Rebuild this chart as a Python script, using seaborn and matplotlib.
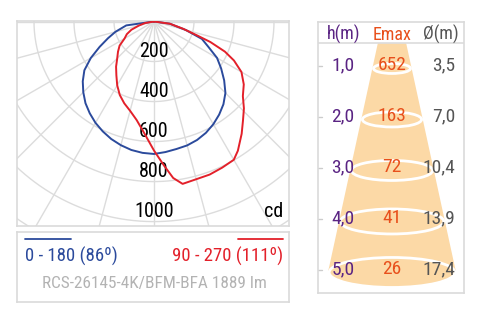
import numpy as np
import pandas as pd
import matplotlib.pyplot as plt
from matplotlib.patches import Ellipse, Polygon
import seaborn as sns

# photometric curves: angle from nadir (deg, negative = left half) and intensity (cd)
blue_angles = [-90, -82, -75, -70, -65, -60, -55, -50, -45, -40, -35, -30, -25, -20, -15, -10, -5,
               0, 5, 10, 15, 20, 25, 30, 35, 40, 45, 50, 55, 60, 65, 70, 75, 82, 90]
blue_cd = [0, 140, 200, 245, 300, 365, 425, 465, 500, 533, 560, 585, 606, 625, 640, 652, 659,
           662, 655, 647, 641, 630, 614, 593, 568, 540, 505, 458, 410, 364, 300, 255, 165, 80, 0]

red_angles = [-90, -80, -75, -70, -65, -60, -55, -50, -45, -40, -35, -30, -25, -20, -15, -10, -5,
              0, 4, 7, 10, 15, 20, 25, 30, 33, 38, 42, 46, 50, 55, 60, 64, 67, 70, 72, 76, 82, 90]
red_cd = [0, 45, 78, 120, 150, 170, 210, 235, 260, 295, 328, 368, 405, 435, 462, 500, 560,
          645, 722, 788, 824, 816, 814, 806, 798, 770, 712, 665, 625, 580, 548, 505, 445, 385, 300, 230, 150, 80, 0]

ring_values = [200, 400, 600, 800, 1000]
blue_label = "0 - 180 (86º)"
red_label = "90 - 270 (111º)"
lamp_label = "RCS-26145-4K/BFM-BFA 1889 lm"

# table on the right
heights = [1, 2, 3, 4, 5]
emax = [652, 163, 72, 41, 26]
diameters = [3.5, 7.0, 10.4, 13.9, 17.4]

BLUE = "#2b4a9c"
RED = "#e3202a"
GRID = "#dcdcdc"
FRAME = "#dadada"
PURPLE = "#5a2483"
ORANGE = "#e8501c"
DGRAY = "#555555"
LGRAY = "#b3b3b3"
CONE = "#fcd9a6"

sns.set_theme(style="white")
plt.rcParams['font.family'] = ['Roboto Condensed', 'Roboto', 'DejaVu Sans']

W, H = 481, 313
fig = plt.figure(figsize=(W / 100, H / 100), dpi=100)


def px_axes(x0, y0, x1, y1):
    a = fig.add_axes([x0 / W, 1 - y1 / H, (x1 - x0) / W, (y1 - y0) / H])
    a.set_xticks([])
    a.set_yticks([])
    for s in a.spines.values():
        s.set_color(FRAME)
        s.set_linewidth(1.2)
    return a


def to_xy(angles, cd):
    t = np.radians(angles)
    c = np.array(cd, dtype=float)
    return pd.DataFrame({"x": c * np.sin(t), "y": -c * np.cos(t)})


# ---- polar diagram (drawn in cd units, 0.2 px per cd) ----
ax = px_axes(17, 21, 289, 226)
for r in range(200, 1600, 200):
    t = np.linspace(-np.pi, np.pi, 400)
    ax.plot(r * np.sin(t), -r * np.cos(t), color=GRID, lw=1, zorder=1)
for a in range(-90, 91, 15):
    t = np.radians(a)
    ax.plot([0, 2000 * np.sin(t)], [0, -2000 * np.cos(t)], color=GRID, lw=1, zorder=1)

for v in ring_values:
    ax.text(0, -(v - 22), str(v), ha="center", va="baseline", fontsize=14.5, color="black", zorder=2)
ax.text(646, -976, "cd", ha="right", va="baseline", fontsize=14.5, color="black", zorder=2)

sns.lineplot(data=to_xy(blue_angles, blue_cd), x="x", y="y", sort=False, estimator=None,
             color=BLUE, lw=1.4, ax=ax, zorder=3)
sns.lineplot(data=to_xy(red_angles, red_cd), x="x", y="y", sort=False, estimator=None,
             color=RED, lw=1.4, ax=ax, zorder=4)
ax.set_xlim(-685, 675)
ax.set_ylim(-1022, 2.5)
ax.set_xlabel("")
ax.set_ylabel("")

# ---- legend box ----
lg = px_axes(17, 232, 289, 302)
lg.set_xlim(0, 272)
lg.set_ylim(70, 0)
lg.plot([8, 54], [7.3, 7.3], color=BLUE, lw=1.3)
lg.plot([221, 266], [7.3, 7.3], color=RED, lw=1.3)
lg.text(8, 29.7, blue_label, ha="left", va="baseline", fontsize=13.5, color=BLUE)
lg.text(266, 29.7, red_label, ha="right", va="baseline", fontsize=13.5, color=RED)
lg.text(137.5, 55.7, lamp_label, ha="center", va="baseline", fontsize=12.4, color=LGRAY)

# ---- height / illuminance table ----
tb = px_axes(318, 22, 464, 293)
tb.set_xlim(0, 146)
tb.set_ylim(1 + (293 - 70) / 51, 1 - (70 - 22) / 51)
cx = 74


def half_w(h):
    return 20 + 11.1 * (h - 1)


top_h, bot_h = 0.471, 4.94
tb.add_patch(Polygon([(cx - half_w(top_h), top_h), (cx + half_w(top_h), top_h),
                      (cx + half_w(bot_h), bot_h), (cx - half_w(bot_h), bot_h)],
                     closed=True, facecolor=CONE, edgecolor="none", zorder=1))
tb.add_patch(Ellipse((cx, bot_h), 2 * half_w(bot_h), 32 / 51, facecolor=CONE,
                     edgecolor="none", zorder=1))
for h in heights:
    ry = (2.5 + 2.5 * h) / 51
    tb.add_patch(Ellipse((cx, h - 0.03), 2 * (half_w(h) - 1.5), 2 * ry, facecolor="none",
                         edgecolor="white", lw=2, zorder=2))

tb.plot([0, 146], [top_h, top_h], color=GRID, lw=1.2, zorder=2)
tb.text(26, 0.412, "h(m)", ha="center", va="baseline", fontsize=13, color=PURPLE)
tb.text(74, 0.412, "Emax", ha="center", va="baseline", fontsize=13, color=ORANGE)
tb.text(141, 0.412, "Ø(m)", ha="right", va="baseline", fontsize=13, color=DGRAY)

for h, e, d in zip(heights, emax, diameters):
    tb.plot([0, 4], [h - 0.08, h - 0.08], color="#cccccc", lw=1, zorder=2)
    tb.text(25, h, f"{h:.1f}".replace(".", ","), ha="center", va="baseline",
            fontsize=14, color=PURPLE, zorder=3)
    tb.text(cx, h, str(e), ha="center", va="baseline", fontsize=14, color=ORANGE, zorder=3)
    tb.text(137, h, f"{d:.1f}".replace(".", ","), ha="right", va="baseline",
            fontsize=14, color=DGRAY, zorder=3)

fig.savefig("out.png", dpi=100, facecolor="white")
